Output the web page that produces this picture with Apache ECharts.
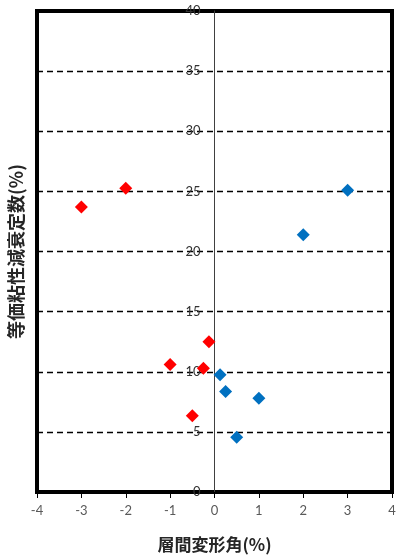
<!DOCTYPE html>
<html><head><meta charset="utf-8">
<script src="https://cdn.jsdelivr.net/npm/echarts@6/dist/echarts.min.js"></script>
<style>html,body{margin:0;padding:0;background:#fff}#c{width:398px;height:558px}</style>
</head><body><div id="c"></div>
<script>
const xTitle = '層間変形角(%)';
const yTitle = '等価粘性減衰定数(%)';
const redX = [-3, -2, -1, -0.25, -0.125, -0.5];
const redY = [23.7, 25.25, 10.6, 10.3, 12.5, 6.35];
const blueX = [3, 2, 0.125, 0.25, 1, 0.5];
const blueY = [25.1, 21.4, 9.75, 8.35, 7.8, 4.55];

const chart = echarts.init(document.getElementById('c'));
const numFont = 'Lato, "Liberation Sans", sans-serif';
const jpFont = '"Noto Sans CJK JP", sans-serif';
chart.setOption({
  animation: false,
  grid: {left: 37, right: 6, top: 11, bottom: 66, show: true, borderColor: '#000', borderWidth: 4,
         containLabel: false, outerBoundsMode: 'none'},
  xAxis: {
    type: 'value', min: -4, max: 4, interval: 1,
    axisLine: {show: false},
    axisTick: {show: true, length: 6, lineStyle: {color: '#000', width: 1}},
    splitLine: {show: false},
    axisLabel: {color: '#595959', fontSize: 13, fontFamily: numFont, margin: 12},
    name: xTitle, nameLocation: 'middle', nameGap: 44,
    nameTextStyle: {fontFamily: jpFont, fontSize: 17, fontWeight: 'bold', color: '#262626'}
  },
  yAxis: {
    type: 'value', min: 0, max: 40, interval: 5,
    offset: -177.5,
    axisLine: {show: true, onZero: false, lineStyle: {color: '#404040', width: 1}},
    axisTick: {show: false},
    splitLine: {show: true, lineStyle: {color: '#000', type: [6, 4], width: 1.3}},
    axisLabel: {color: '#333333', fontSize: 13, fontFamily: numFont, margin: 14},
    name: yTitle, nameLocation: 'middle', nameGap: 189,
    nameTextStyle: {fontFamily: jpFont, fontSize: 18, fontWeight: 'bold', color: '#262626'}
  },
  series: [
    {type: 'scatter', symbol: 'diamond', symbolSize: 13, itemStyle: {color: '#ff0000', opacity: 1},
     data: redX.map((x, i) => [x, redY[i]])},
    {type: 'scatter', symbol: 'diamond', symbolSize: 13, itemStyle: {color: '#0070c0', opacity: 1},
     data: blueX.map((x, i) => [x, blueY[i]])}
  ]
});
</script></body></html>
